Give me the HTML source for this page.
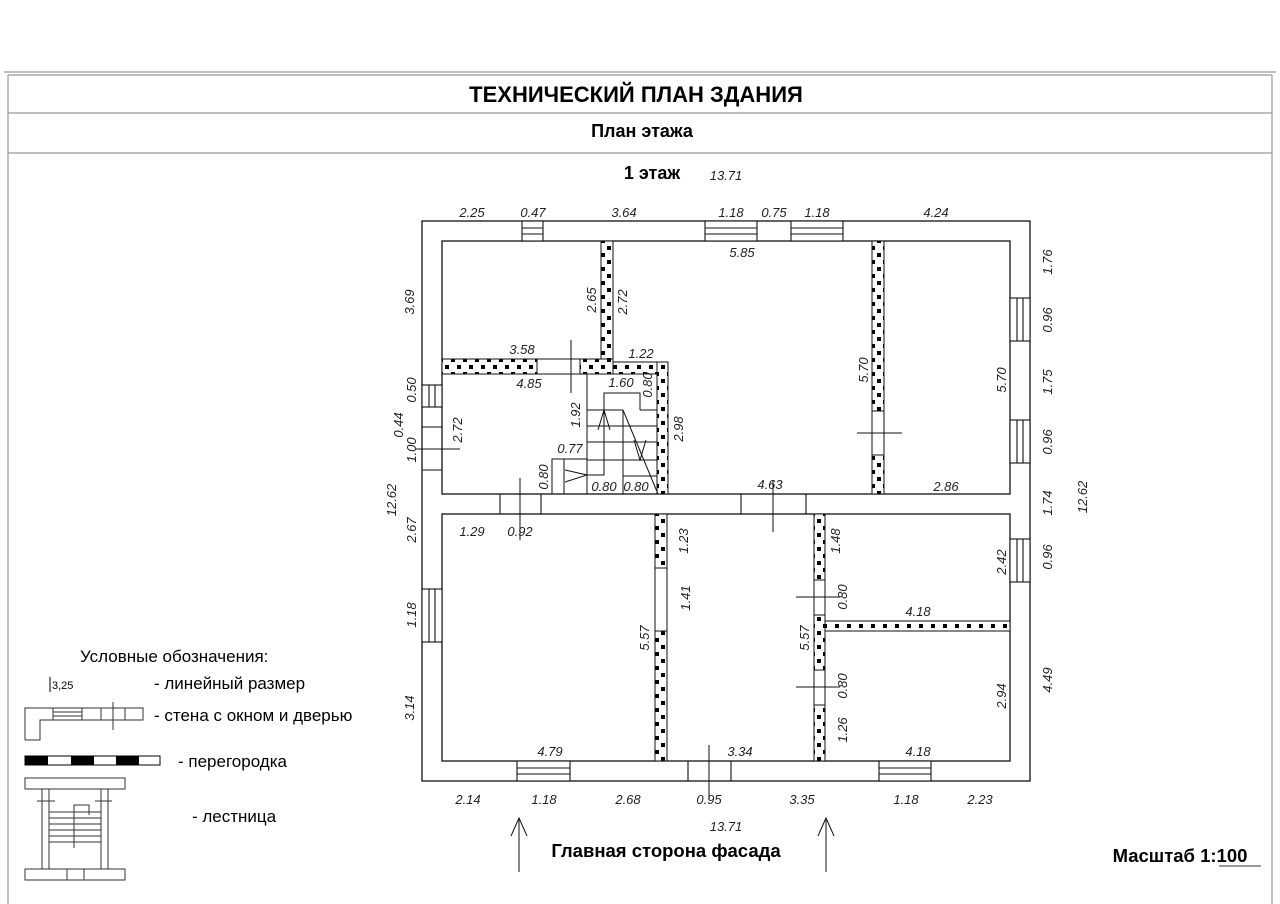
<!DOCTYPE html>
<html><head><meta charset="utf-8"><style>
html,body{margin:0;padding:0;background:#fff;}
svg{display:block}
.d{font-family:"Liberation Sans",sans-serif;font-style:italic;font-size:13px;fill:#222;text-anchor:middle}
.h{font-family:"Liberation Sans",sans-serif;font-weight:bold;fill:#000;text-anchor:middle}
.l{font-family:"Liberation Sans",sans-serif;font-size:17px;fill:#000}
</style></head><body>
<svg width="1280" height="904" viewBox="0 0 1280 904" xmlns="http://www.w3.org/2000/svg">
<defs>
<pattern id="ck" width="12" height="14" patternUnits="userSpaceOnUse">
<rect width="12" height="14" fill="#fff"/><rect x="1" y="1" width="4" height="4" fill="#000"/><rect x="7" y="8" width="4" height="4" fill="#000"/>
</pattern>
</defs>
<!-- frame -->
<g stroke="#999" stroke-width="1.2" fill="none">
<line x1="4" y1="72" x2="1276" y2="72"/>
<line x1="8" y1="75" x2="1272" y2="75"/>
<line x1="8" y1="113" x2="1272" y2="113"/>
<line x1="8" y1="153" x2="1272" y2="153"/>
<line x1="8" y1="75" x2="8" y2="904"/>
<line x1="1272" y1="75" x2="1272" y2="904"/>
</g>
<text x="636" y="102" class="h" font-size="22">ТЕХНИЧЕСКИЙ ПЛАН ЗДАНИЯ</text>
<text x="642" y="137" class="h" font-size="18">План этажа</text>
<text x="652" y="179" class="h" font-size="18">1 этаж</text>
<text x="726" y="180" class="d">13.71</text>

<!-- outer walls -->
<g fill="none" stroke="#111" stroke-width="1.3">
<rect x="422" y="221" width="608" height="560"/>
<rect x="442" y="241" width="568" height="253"/>
<rect x="442" y="514" width="568" height="247"/>
</g>
<g fill="#fff" stroke="#111" stroke-width="1.1">
<rect x="522" y="221" width="21" height="20"/><line x1="522" y1="228" x2="543" y2="228"/><line x1="522" y1="234" x2="543" y2="234"/>
<rect x="705" y="221" width="52" height="20"/><line x1="705" y1="228" x2="757" y2="228"/><line x1="705" y1="234" x2="757" y2="234"/>
<rect x="791" y="221" width="52" height="20"/><line x1="791" y1="228" x2="843" y2="228"/><line x1="791" y1="234" x2="843" y2="234"/>
<rect x="1010" y="298" width="20" height="43"/><line x1="1017" y1="298" x2="1017" y2="341"/><line x1="1023" y1="298" x2="1023" y2="341"/>
<rect x="1010" y="420" width="20" height="43"/><line x1="1017" y1="420" x2="1017" y2="463"/><line x1="1023" y1="420" x2="1023" y2="463"/>
<rect x="1010" y="539" width="20" height="43"/><line x1="1017" y1="539" x2="1017" y2="582"/><line x1="1023" y1="539" x2="1023" y2="582"/>
<rect x="422" y="385" width="20" height="22"/><line x1="429" y1="385" x2="429" y2="407"/><line x1="435" y1="385" x2="435" y2="407"/>
<line x1="422" y1="427" x2="442" y2="427"/><line x1="422" y1="470" x2="442" y2="470"/>
<rect x="422" y="589" width="20" height="53"/><line x1="429" y1="589" x2="429" y2="642"/><line x1="435" y1="589" x2="435" y2="642"/>
<rect x="517" y="761" width="53" height="20"/><line x1="517" y1="768" x2="570" y2="768"/><line x1="517" y1="774" x2="570" y2="774"/>
<rect x="879" y="761" width="52" height="20"/><line x1="879" y1="768" x2="931" y2="768"/><line x1="879" y1="774" x2="931" y2="774"/>
<line x1="688" y1="761" x2="688" y2="781"/><line x1="731" y1="761" x2="731" y2="781"/>
<line x1="500" y1="494" x2="500" y2="514"/><line x1="541" y1="494" x2="541" y2="514"/>
<line x1="741" y1="494" x2="741" y2="514"/><line x1="806" y1="494" x2="806" y2="514"/>
</g>
<!-- partitions -->
<g stroke="#111" stroke-width="1">
<rect x="601" y="241" width="12" height="119" fill="url(#ck)"/>
<rect x="442" y="359" width="95" height="15" fill="url(#ck)"/>
<rect x="537" y="359" width="43" height="15" fill="#fff"/>
<rect x="580" y="359" width="33" height="15" fill="url(#ck)"/>
<rect x="613" y="362" width="55" height="12" fill="url(#ck)"/>
<rect x="657" y="362" width="11" height="132" fill="url(#ck)"/>
<rect x="872" y="241" width="12" height="170" fill="url(#ck)"/>
<rect x="872" y="411" width="12" height="44" fill="#fff"/>
<rect x="872" y="455" width="12" height="39" fill="url(#ck)"/>
<rect x="655" y="514" width="12" height="54" fill="url(#ck)"/>
<rect x="655" y="568" width="12" height="63" fill="#fff"/>
<rect x="655" y="631" width="12" height="130" fill="url(#ck)"/>
<rect x="814" y="514" width="11" height="66" fill="url(#ck)"/>
<rect x="814" y="580" width="11" height="35" fill="#fff"/>
<rect x="814" y="615" width="11" height="55" fill="url(#ck)"/>
<rect x="814" y="670" width="11" height="35" fill="#fff"/>
<rect x="814" y="705" width="11" height="56" fill="url(#ck)"/>
<rect x="825" y="621" width="185" height="10" fill="url(#ck)"/>
</g>
<!-- stair -->
<g fill="none" stroke="#111" stroke-width="1">
<rect x="587" y="374" width="70" height="120"/>
<polyline points="587,475 604,475 604,393 640,393 640,410"/>
<line x1="587" y1="410" x2="623" y2="410"/><line x1="587" y1="426" x2="623" y2="426"/>
<line x1="587" y1="442" x2="623" y2="442"/><line x1="587" y1="460" x2="623" y2="460"/>
<line x1="640" y1="410" x2="657" y2="410"/><line x1="623" y1="426" x2="657" y2="426"/>
<line x1="623" y1="442" x2="657" y2="442"/><line x1="623" y1="460" x2="657" y2="460"/><line x1="623" y1="476" x2="657" y2="476"/>
<line x1="623" y1="410" x2="623" y2="494"/>
<line x1="623" y1="410" x2="658" y2="494"/>
<polyline points="598,430 604,410 610,430"/>
<polyline points="634,440 640,460 646,440"/>
<rect x="552" y="459" width="35" height="35"/>
<line x1="564" y1="459" x2="564" y2="494"/>
<polyline points="565,470 587,475 565,482"/>
<line x1="571" y1="340" x2="571" y2="393"/>
<line x1="857" y1="433" x2="902" y2="433"/>
<line x1="416" y1="449" x2="460" y2="449"/>
<line x1="520" y1="478" x2="520" y2="540"/>
<line x1="773" y1="480" x2="773" y2="532"/>
<line x1="709" y1="745" x2="709" y2="800"/>
<line x1="796" y1="597" x2="840" y2="597"/>
<line x1="796" y1="687" x2="840" y2="687"/>
<line x1="519" y1="820" x2="519" y2="872"/><polyline points="511,836 519,818 527,836"/>
<line x1="826" y1="820" x2="826" y2="872"/><polyline points="818,836 826,818 834,836"/>
</g>
<g class="d">
<text x="472" y="217">2.25</text><text x="533" y="217">0.47</text><text x="624" y="217">3.64</text>
<text x="731" y="217">1.18</text><text x="774" y="217">0.75</text><text x="817" y="217">1.18</text><text x="936" y="217">4.24</text>
<text x="742" y="257">5.85</text><text x="946" y="491">2.86</text>
<text x="522" y="354">3.58</text><text x="529" y="388">4.85</text><text x="641" y="358">1.22</text><text x="621" y="387">1.60</text>
<text x="570" y="453">0.77</text><text x="604" y="491">0.80</text><text x="636" y="491">0.80</text>
<text x="770" y="489">4.63</text><text x="472" y="536">1.29</text><text x="520" y="536">0.92</text>
<text x="918" y="616">4.18</text><text x="918" y="756">4.18</text><text x="550" y="756">4.79</text><text x="740" y="756">3.34</text>
<text x="468" y="804">2.14</text><text x="544" y="804">1.18</text><text x="628" y="804">2.68</text><text x="709" y="804">0.95</text>
<text x="802" y="804">3.35</text><text x="906" y="804">1.18</text><text x="980" y="804">2.23</text><text x="726" y="831">13.71</text>
</g>
<g class="d">
<text transform="translate(1052,262) rotate(-90)">1.76</text>
<text transform="translate(1052,320) rotate(-90)">0.96</text>
<text transform="translate(1052,382) rotate(-90)">1.75</text>
<text transform="translate(1052,442) rotate(-90)">0.96</text>
<text transform="translate(1052,503) rotate(-90)">1.74</text>
<text transform="translate(1052,557) rotate(-90)">0.96</text>
<text transform="translate(1052,680) rotate(-90)">4.49</text>
<text transform="translate(1087,497) rotate(-90)">12.62</text>
<text transform="translate(1006,380) rotate(-90)">5.70</text>
<text transform="translate(868,370) rotate(-90)">5.70</text>
<text transform="translate(1006,562) rotate(-90)">2.42</text>
<text transform="translate(1006,696) rotate(-90)">2.94</text>
<text transform="translate(414,302) rotate(-90)">3.69</text>
<text transform="translate(416,390) rotate(-90)">0.50</text>
<text transform="translate(403,425) rotate(-90)">0.44</text>
<text transform="translate(416,450) rotate(-90)">1.00</text>
<text transform="translate(396,500) rotate(-90)">12.62</text>
<text transform="translate(416,530) rotate(-90)">2.67</text>
<text transform="translate(416,615) rotate(-90)">1.18</text>
<text transform="translate(414,708) rotate(-90)">3.14</text>
<text transform="translate(462,430) rotate(-90)">2.72</text>
<text transform="translate(596,300) rotate(-90)">2.65</text>
<text transform="translate(627,302) rotate(-90)">2.72</text>
<text transform="translate(652,385) rotate(-90)">0.80</text>
<text transform="translate(580,415) rotate(-90)">1.92</text>
<text transform="translate(683,429) rotate(-90)">2.98</text>
<text transform="translate(548,477) rotate(-90)">0.80</text>
<text transform="translate(688,541) rotate(-90)">1.23</text>
<text transform="translate(690,598) rotate(-90)">1.41</text>
<text transform="translate(649,638) rotate(-90)">5.57</text>
<text transform="translate(809,638) rotate(-90)">5.57</text>
<text transform="translate(840,541) rotate(-90)">1.48</text>
<text transform="translate(847,597) rotate(-90)">0.80</text>
<text transform="translate(847,686) rotate(-90)">0.80</text>
<text transform="translate(847,730) rotate(-90)">1.26</text>
</g>
<text x="666" y="857" class="h" font-size="18.5">Главная сторона фасада</text>
<text x="1180" y="862" class="h" font-size="18.5">Масштаб 1:100</text>
<line x1="1219" y1="866" x2="1261" y2="866" stroke="#333" stroke-width="1"/>
<!-- legend -->
<text x="80" y="662" class="l">Условные обозначения:</text>
<line x1="50" y1="677" x2="50" y2="692" stroke="#000"/>
<text x="52" y="689" font-family="Liberation Sans,sans-serif" font-size="11" fill="#000">3,25</text>
<text x="154" y="689" class="l">- линейный размер</text>
<text x="154" y="721" class="l">- стена с окном и дверью</text>
<text x="178" y="767" class="l">- перегородка</text>
<text x="192" y="822" class="l">- лестница</text>
<g fill="none" stroke="#333" stroke-width="1">
<polyline points="25,740 25,708 143,708 143,720 40,720 40,740 25,740"/>
<line x1="53" y1="712" x2="82" y2="712"/><line x1="53" y1="716" x2="82" y2="716"/>
<line x1="53" y1="708" x2="53" y2="720"/><line x1="82" y1="708" x2="82" y2="720"/>
<line x1="101" y1="708" x2="101" y2="720"/><line x1="125" y1="708" x2="125" y2="720"/>
<line x1="113" y1="702" x2="113" y2="730"/>
<rect x="25" y="778" width="100" height="11"/>
<rect x="25" y="869" width="100" height="11"/>
<line x1="42" y1="789" x2="42" y2="869"/><line x1="108" y1="789" x2="108" y2="869"/>
<line x1="49" y1="789" x2="49" y2="869"/><line x1="101" y1="789" x2="101" y2="869"/>
<line x1="37" y1="801" x2="55" y2="801"/><line x1="95" y1="801" x2="112" y2="801"/>
<polyline points="74,848 74,805 89,805 89,815"/>
<line x1="49" y1="812" x2="101" y2="812"/><line x1="49" y1="818" x2="101" y2="818"/>
<line x1="49" y1="824" x2="101" y2="824"/><line x1="49" y1="830" x2="101" y2="830"/>
<line x1="49" y1="836" x2="101" y2="836"/><line x1="49" y1="842" x2="101" y2="842"/>
<line x1="67" y1="869" x2="67" y2="880"/><line x1="84" y1="869" x2="84" y2="880"/>
</g>
<rect x="25" y="756" width="135" height="9" fill="#fff" stroke="#000"/>
<g fill="#000"><rect x="25" y="756" width="23" height="9"/><rect x="71" y="756" width="23" height="9"/><rect x="116" y="756" width="23" height="9"/></g>
</svg>
</body></html>
